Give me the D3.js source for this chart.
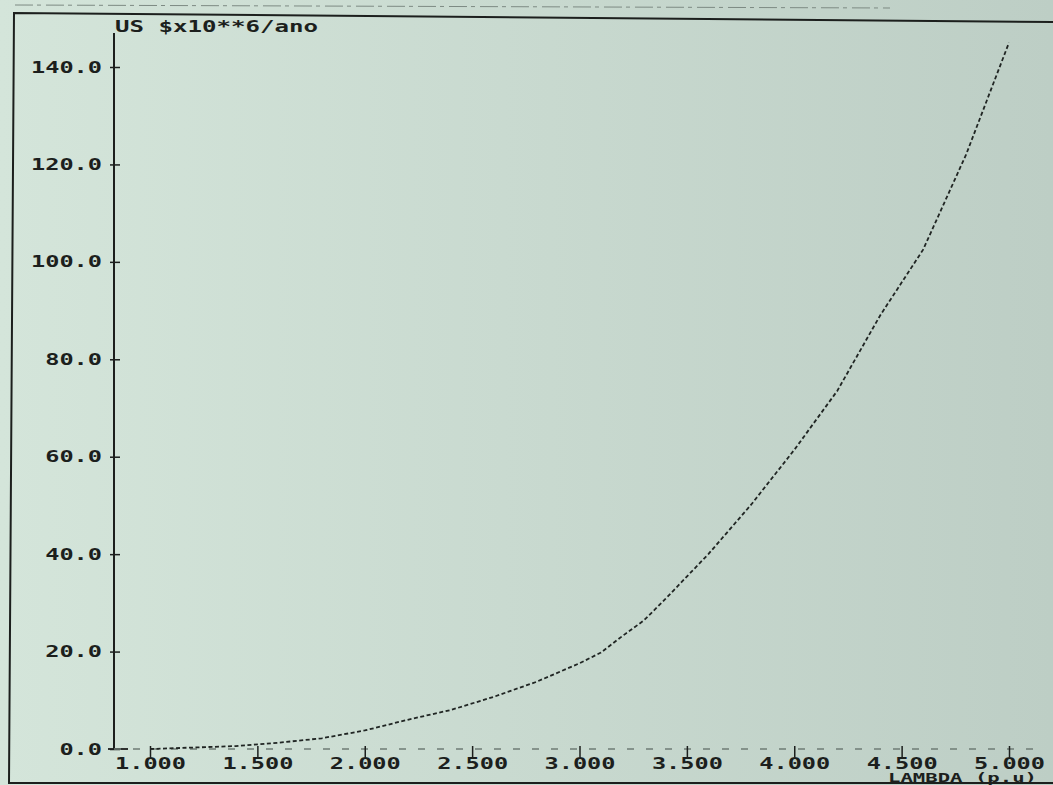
<!DOCTYPE html>
<html>
<head>
<meta charset="utf-8">
<script src="https://cdn.jsdelivr.net/npm/d3@7"></script>
<style>
  html, body { margin: 0; padding: 0; background: #cbdcd1; }
  svg { display: block; }
  text { font-family: "DejaVu Sans Mono", "Liberation Mono", monospace; font-weight: bold; fill: #1c1f1d; }
</style>
</head>
<body>
<div id="chart"></div>
<script>
// lambda (p.u) values along the curve
const lambda = [1.0, 1.2, 1.4, 1.6, 1.8, 2.0, 2.2, 2.4, 2.6, 2.8, 3.0, 3.1, 3.2, 3.3, 3.4, 3.6, 3.8, 4.0, 4.2, 4.4, 4.6, 4.8, 5.0];
// cost, US $ x10**6 / ano
const cost = [0.0, 0.3, 0.6, 1.3, 2.2, 3.8, 6.0, 8.0, 10.7, 13.8, 17.6, 19.8, 23.2, 26.4, 30.8, 40.0, 50.2, 61.4, 73.5, 89.0, 102.5, 122.0, 145.0];

const xTicks = [1.0, 1.5, 2.0, 2.5, 3.0, 3.5, 4.0, 4.5, 5.0];
const yTicks = [0, 20, 40, 60, 80, 100, 120, 140];

const yTitle = 'US $x10**6/ano';
const xTitle = 'LAMBDA (p.u)';

const width = 1053, height = 785;

// printer font is wide: stretch each glyph to about 14px
const charW = 14.2;

const svg = d3.select('#chart')
  .append('svg')
    .attr('width', width)
    .attr('height', height);

// paper background, a bit darker to the right like the photo
const grad = svg.append('defs').append('linearGradient')
  .attr('id', 'paper')
  .attr('x1', '0').attr('x2', '1').attr('y1', '0').attr('y2', '0');
grad.append('stop').attr('offset', '0').attr('stop-color', '#d4e5da');
grad.append('stop').attr('offset', '1').attr('stop-color', '#bdcec5');

svg.append('rect')
  .attr('width', width)
  .attr('height', height)
  .attr('fill', 'url(#paper)');

// faint line of the page above the frame
svg.append('line')
  .attr('x1', 15).attr('x2', 890)
  .attr('y1', 5).attr('y2', 8)
  .attr('stroke', '#7d8a83')
  .attr('stroke-width', 1)
  .attr('stroke-dasharray', '18,4,4,5');

// outer frame (slightly skewed, as photographed)
svg.append('path')
  .attr('d', 'M1053,22 L14,13 L9,783 L1053,783')
  .attr('fill', 'none')
  .attr('stroke', '#1c1f1d')
  .attr('stroke-width', 2);

// Scales
const x = d3.scaleLinear()
  .domain([1, 5])
  .range([150, 1009]);

const y = d3.scaleLinear()
  .domain([0, 140])
  .range([749, 67]);

const axisX = 114;

// Y axis
const gy = svg.append('g')
  .attr('transform', `translate(${axisX},0)`)
  .call(d3.axisLeft(y)
    .tickValues(yTicks)
    .tickSize(4)
    .tickPadding(8)
    .tickFormat(d3.format('.1f')));

gy.select('.domain').remove();
gy.selectAll('.tick line')
  .attr('x1', -4).attr('x2', 6)
  .attr('stroke', '#1c1f1d')
  .attr('stroke-width', 1.5);
gy.selectAll('.tick text')
  .attr('font-size', 16)
  .attr('font-family', null)
  .attr('textLength', function () { return this.textContent.length * charW; })
  .attr('lengthAdjust', 'spacingAndGlyphs');

gy.append('line')
  .attr('x1', 0).attr('x2', 0)
  .attr('y1', 33).attr('y2', y(0))
  .attr('stroke', '#1c1f1d')
  .attr('stroke-width', 2);

// X axis
const gx = svg.append('g')
  .attr('transform', `translate(0,${y(0)})`)
  .call(d3.axisBottom(x)
    .tickValues(xTicks)
    .tickSize(8)
    .tickPadding(1)
    .tickFormat(d3.format('.3f')));

gx.select('.domain').remove();
gx.selectAll('.tick line')
  .attr('y1', -3)
  .attr('stroke', '#1c1f1d')
  .attr('stroke-width', 1.5);
gx.selectAll('.tick text')
  .attr('font-size', 16)
  .attr('font-family', null)
  .attr('textLength', function () { return this.textContent.length * charW; })
  .attr('lengthAdjust', 'spacingAndGlyphs');

// faint printed baseline
gx.insert('line', ':first-child')
  .attr('x1', axisX).attr('x2', 1045)
  .attr('y1', 0).attr('y2', 0)
  .attr('stroke', '#6f7c75')
  .attr('stroke-width', 1.3)
  .attr('stroke-dasharray', '7,12');
gx.insert('line', ':first-child')
  .attr('x1', axisX - 6).attr('x2', axisX + 14)
  .attr('y1', 0).attr('y2', 0)
  .attr('stroke', '#1c1f1d')
  .attr('stroke-width', 1.8);

// Titles
svg.append('text')
  .attr('x', axisX + 1)
  .attr('y', 32)
  .attr('font-size', 16)
  .attr('textLength', 203)
  .attr('lengthAdjust', 'spacingAndGlyphs')
  .text(yTitle);

svg.append('text')
  .attr('x', 888)
  .attr('y', 782)
  .attr('font-size', 12)
  .attr('textLength', 149)
  .attr('lengthAdjust', 'spacingAndGlyphs')
  .text(xTitle);

// Curve
const data = lambda.map((l, i) => ({ l, v: cost[i] }));

const line = d3.line()
  .x(d => x(d.l))
  .y(d => y(d.v));

svg.append('path')
  .datum(data)
  .attr('d', line)
  .attr('fill', 'none')
  .attr('stroke', '#202523')
  .attr('stroke-width', 1.8)
  .attr('stroke-dasharray', '4,2.5');
</script>
</body>
</html>
